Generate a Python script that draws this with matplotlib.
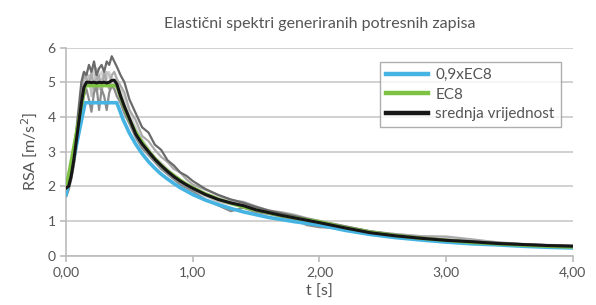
import numpy as np
import matplotlib
matplotlib.use("Agg")
import matplotlib.pyplot as plt
from matplotlib.ticker import FuncFormatter

plt.rcParams['font.family'] = ['Lato', 'DejaVu Sans']

# ---- data ----
# EC8 spectrum (m/s^2) and 0.9 x EC8
t_ec8 = [0.00, 0.15, 0.40, 0.45, 0.50, 0.55, 0.60, 0.65, 0.70, 0.75, 0.80, 0.85, 0.90, 0.95, 1.00,
         1.10, 1.20, 1.30, 1.40, 1.50, 1.60, 1.70, 1.80, 1.90, 2.00, 2.20, 2.40, 2.60, 2.80, 3.00,
         3.20, 3.40, 3.60, 3.80, 4.00]
ec8 = [1.96, 4.90, 4.90, 4.36, 3.92, 3.56, 3.27, 3.02, 2.80, 2.61, 2.45, 2.31, 2.18, 2.06, 1.96,
       1.78, 1.63, 1.51, 1.40, 1.31, 1.23, 1.15, 1.09, 1.03, 0.98, 0.81, 0.68, 0.58, 0.50, 0.44,
       0.38, 0.34, 0.30, 0.27, 0.245]
ec8_09 = [1.76, 4.41, 4.41, 3.92, 3.53, 3.21, 2.94, 2.71, 2.52, 2.35, 2.21, 2.08, 1.96, 1.86, 1.76,
          1.60, 1.47, 1.36, 1.26, 1.18, 1.10, 1.04, 0.98, 0.93, 0.88, 0.73, 0.61, 0.52, 0.45, 0.39,
          0.34, 0.31, 0.27, 0.24, 0.22]

# generated records and their mean
t_rec = [0.00, 0.02, 0.04, 0.06, 0.08, 0.10, 0.12, 0.14, 0.16, 0.18, 0.20, 0.22, 0.24, 0.26, 0.28,
         0.30, 0.32, 0.34, 0.36, 0.38, 0.40, 0.43, 0.46, 0.50, 0.55, 0.60, 0.65, 0.70, 0.75, 0.80,
         0.85, 0.90, 0.95, 1.00, 1.10, 1.20, 1.30, 1.40, 1.50, 1.60, 1.70, 1.80, 1.90, 2.00, 2.20,
         2.40, 2.60, 2.80, 3.00, 3.20, 3.40, 3.60, 3.80, 4.00]
rec_1 = [1.90, 2.10, 2.50, 3.00, 3.60, 4.30, 5.00, 5.30, 5.20, 5.50, 5.30, 5.60, 5.20, 5.40, 5.50,
         5.30, 5.60, 5.50, 5.75, 5.60, 5.45, 5.20, 5.00, 4.50, 4.10, 3.70, 3.55, 3.20, 3.05, 2.75,
         2.60, 2.40, 2.30, 2.15, 1.92, 1.75, 1.62, 1.52, 1.40, 1.30, 1.22, 1.14, 1.06, 0.98, 0.84,
         0.70, 0.60, 0.52, 0.46, 0.41, 0.37, 0.33, 0.30, 0.28]
rec_2 = [1.70, 1.90, 2.20, 2.60, 3.10, 3.70, 4.20, 4.60, 4.80, 4.50, 4.15, 4.70, 4.90, 4.20, 4.80,
         4.60, 4.20, 4.70, 4.90, 4.80, 4.60, 4.40, 4.10, 3.80, 3.40, 3.10, 2.90, 2.70, 2.50, 2.35,
         2.20, 2.05, 1.95, 1.85, 1.62, 1.45, 1.28, 1.38, 1.25, 1.20, 1.12, 1.05, 0.88, 0.82, 0.78,
         0.64, 0.55, 0.48, 0.42, 0.38, 0.34, 0.31, 0.28, 0.26]
rec_3 = [2.10, 2.20, 2.40, 2.90, 3.40, 4.00, 4.60, 5.20, 5.10, 4.90, 5.30, 4.80, 5.10, 5.20, 4.70,
         5.30, 5.00, 4.80, 5.20, 5.30, 5.10, 4.90, 4.70, 4.20, 3.90, 3.45, 3.30, 3.05, 2.85, 2.70,
         2.50, 2.40, 2.20, 2.05, 1.90, 1.75, 1.60, 1.55, 1.42, 1.30, 1.25, 1.18, 1.08, 1.00, 0.85,
         0.70, 0.62, 0.56, 0.55, 0.47, 0.38, 0.33, 0.30, 0.28]
rec_4 = [1.80, 1.95, 2.30, 2.70, 3.20, 3.80, 4.30, 4.70, 4.90, 5.20, 4.60, 5.00, 5.40, 4.80, 5.10,
         4.90, 5.30, 5.20, 4.90, 5.00, 4.80, 4.50, 4.20, 3.90, 3.45, 3.15, 2.95, 2.75, 2.55, 2.40,
         2.25, 2.10, 2.00, 1.90, 1.72, 1.55, 1.48, 1.40, 1.30, 1.22, 1.15, 1.08, 1.00, 0.93, 0.79,
         0.65, 0.56, 0.50, 0.45, 0.40, 0.36, 0.32, 0.29, 0.27]
rec_5 = [2.00, 2.00, 2.20, 2.60, 3.10, 3.70, 4.30, 4.80, 5.30, 4.90, 5.10, 5.40, 4.70, 5.20, 5.30,
         4.90, 5.10, 5.30, 5.10, 4.90, 5.00, 4.80, 4.50, 4.10, 3.70, 3.35, 3.10, 2.85, 2.68, 2.50,
         2.35, 2.20, 2.08, 1.98, 1.80, 1.68, 1.57, 1.48, 1.36, 1.28, 1.20, 1.13, 1.07, 1.00, 0.85,
         0.70, 0.62, 0.56, 0.52, 0.46, 0.39, 0.34, 0.31, 0.29]
mean_rec = [1.95, 2.00, 2.30, 2.75, 3.30, 3.85, 4.40, 4.85, 5.00, 5.00, 4.99, 5.00, 4.98, 5.00, 4.99,
            5.00, 4.98, 5.00, 5.05, 5.06, 4.95, 4.60, 4.30, 3.95, 3.50, 3.22, 3.00, 2.78, 2.60, 2.43,
            2.28, 2.15, 2.04, 1.94, 1.76, 1.62, 1.52, 1.44, 1.32, 1.24, 1.16, 1.09, 1.02, 0.95, 0.80,
            0.66, 0.57, 0.50, 0.44, 0.40, 0.35, 0.32, 0.29, 0.27]

records = [rec_5, rec_4, rec_3, rec_2, rec_1]
rec_colors = ['#d4d4d4', '#c2c2c2', '#ababab', '#8c8c8c', '#6a6a6a']

txt = '#555555'
grid_c = '#c9c9c9'

fig = plt.figure(figsize=(5.96, 3.05), dpi=100)
ax = fig.add_axes([0.111, 0.162, 0.850, 0.682])

for r, c in zip(records, rec_colors):
    ax.plot(t_rec, r, color=c, lw=1.6, zorder=2)

ax.plot(t_ec8, ec8_09, color='#45b4e3', lw=2.6, label='0,9xEC8', zorder=3)
ax.plot(t_ec8, ec8, color='#7dc242', lw=2.4, label='EC8', zorder=3)
ax.plot(t_rec, mean_rec, color='#161616', lw=2.2, label='srednja vrijednost', zorder=4)

ax.set_xlim(0, 4)
ax.set_ylim(0, 6)
ax.set_xticks([0, 1, 2, 3, 4])
ax.set_yticks(range(7))
ax.xaxis.set_major_formatter(FuncFormatter(lambda v, p: f"{v:.2f}".replace('.', ',')))
ax.grid(axis='y', color=grid_c, lw=1.2, zorder=0)
ax.set_axisbelow(True)

for s in ['top', 'right']:
    ax.spines[s].set_visible(False)
for s in ['left', 'bottom']:
    ax.spines[s].set_color('#bbbbbb')
    ax.spines[s].set_linewidth(1.2)
ax.tick_params(colors='#bbbbbb', labelcolor=txt, labelsize=10, length=4, width=1.2)

ax.set_title('Elastični spektri generiranih potresnih zapisa', color=txt, fontsize=11.5, pad=14)
ax.set_xlabel('t [s]', color=txt, fontsize=11.5, labelpad=5)
ax.set_ylabel('RSA [m/s$^2$]', color=txt, fontsize=11.5, labelpad=6)

leg = ax.legend(loc='upper right', bbox_to_anchor=(0.976, 0.93), fontsize=11, frameon=True,
                fancybox=False, handlelength=2.7, borderpad=0.4, labelspacing=0.35,
                handletextpad=0.5, borderaxespad=0)
leg.get_frame().set_edgecolor('#9a9a9a')
leg.get_frame().set_linewidth(1.0)
for line in leg.get_lines():
    line.set_linewidth(3.2)
for text in leg.get_texts():
    text.set_color(txt)

fig.savefig('out.png', dpi=100)
